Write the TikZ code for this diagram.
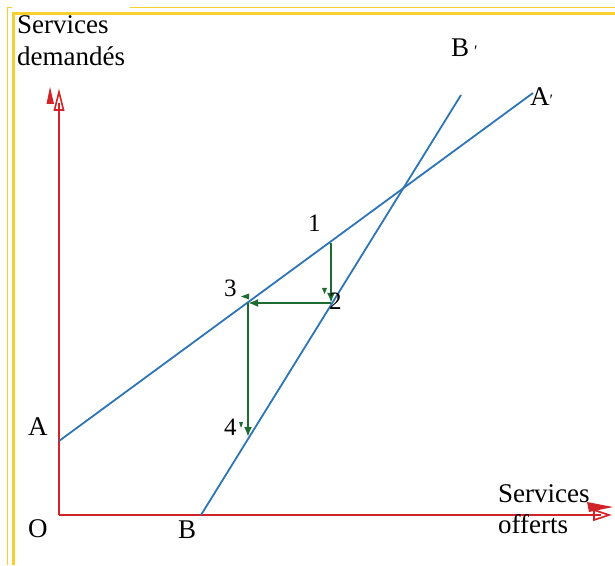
\documentclass[tikz,border=0pt]{standalone}
\usepackage{fontspec}
\setmainfont{Liberation Serif}
\usetikzlibrary{arrows.meta}
\definecolor{axisred}{HTML}{D2232A}
\definecolor{curveblue}{HTML}{2E75B6}
\definecolor{stepgreen}{HTML}{1E6B32}
\definecolor{frameyellow}{HTML}{F6D12E}
\tikzset{
  lbl/.style={inner sep=0pt, anchor=base west, font=\fontsize{27}{32}\selectfont},
  numlbl/.style={inner sep=0pt, anchor=base west, font=\fontsize{25}{28}\selectfont},
  axisline/.style={draw=axisred, line width=2.2pt},
  openhead/.style={draw=axisred, line width=1.6pt, fill=white, line join=miter},
  solidhead/.style={fill=axisred},
  curve/.style={draw=curveblue, line width=1.8pt},
  stepline/.style={draw=stepgreen, line width=2.2pt,
    -{Latex[length=10pt,width=8pt]}},
  tick/.style={fill=stepgreen},
}
\begin{document}
\begin{tikzpicture}[x=1pt,y=1pt]
  \useasboundingbox (0,0) rectangle (615,565);
  \fill[white] (0,0) rectangle (615,565);
  % double frame, top and left edges
  \draw[frameyellow, line width=0.8pt] (7,0) -- (7,558) -- (12,558);
  \draw[frameyellow, line width=0.8pt] (130,558) -- (615,558);
  \draw[frameyellow, line width=3pt] (13,0) -- (13,551) -- (615,551);

  % axes
  \coordinate (O) at (59,50);
  \coordinate (Ytip) at (59,473);
  \coordinate (Xtip) at (609,50);
  \draw[axisline] (O) -- (59,456);
  \draw[axisline] (O) -- (596,50);
  % vertical axis head: shadow wedge and outlined triangle
  \fill[solidhead] (50,478) -- (46.5,461) -- (54,461) -- cycle;
  \draw[openhead] (Ytip) -- (54.5,455) -- (63.5,455) -- cycle;
  \draw[axisred, line width=2.2pt] (59,455) -- (59,462);
  % horizontal axis head: shadow wedge and outlined triangle
  \fill[solidhead] (613,58) -- (587,63) -- (589,53) -- cycle;
  \draw[openhead] (Xtip) -- (594,55) -- (594,45) -- cycle;
  \draw[axisred, line width=2.2pt] (594,50) -- (601,50);

  % supply and demand lines
  \coordinate (A) at (59,124);
  \coordinate (Aend) at (533,472);
  \coordinate (B) at (201,50);
  \coordinate (Bend) at (461,470);
  \draw[curve] (A) -- (Aend);
  \draw[curve] (B) -- (Bend);

  % adjustment path
  \coordinate (P1) at (331,322);
  \coordinate (P2) at (331,262);
  \coordinate (P3) at (248,262);
  \coordinate (P4) at (248,128);
  \draw[stepline] (P1) -- (P2);
  \draw[stepline] (P2) -- (P3);
  \draw[stepline] (P3) -- (P4);
  % small arrow marks beside the step labels
  \fill[tick] (322,277) -- (327,277) -- (324.5,271) -- cycle;
  \fill[tick] (241,268.5) -- (249,271.5) -- (249,265.5) -- cycle;
  \fill[tick] (239,143) -- (243,143) -- (241,137) -- cycle;

  % labels
  \node[lbl] (ylab1) at (17,531) {Services};
  \node[lbl] (ylab2) at (17,499) {demandés};
  \node[lbl] (xlab1) at (498,63) {Services};
  \node[lbl] (xlab2) at (498,32) {offerts};
  \node[lbl] (Blab) at (451,508) {B\hspace{5pt}\fontsize{16}{16}\selectfont ′};
  \node[lbl] (Alab) at (530,459) {A\fontsize{16}{16}\selectfont ′};
  \node[lbl] (Alab0) at (28,130) {A};
  \node[lbl] (Olab) at (28,28) {O};
  \node[lbl] (Blab0) at (178,27) {B};
  \node[numlbl] (n1) at (308,333) {1};
  \node[numlbl] (n2) at (329,255) {2};
  \node[numlbl] (n3) at (224,268) {3};
  \node[numlbl] (n4) at (224,130) {4};
\end{tikzpicture}
\end{document}
